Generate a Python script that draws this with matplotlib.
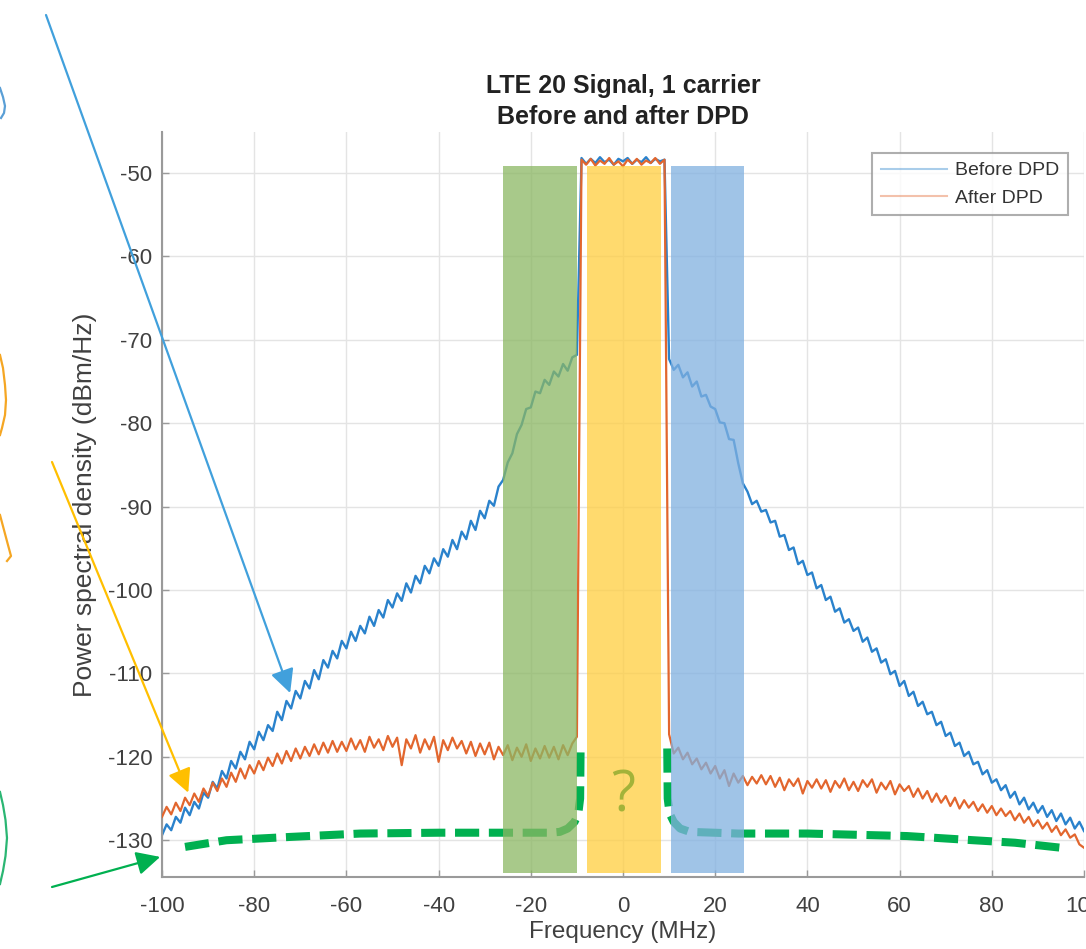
import matplotlib
matplotlib.use('Agg')
import matplotlib.pyplot as plt
from matplotlib.patches import Rectangle
from matplotlib.lines import Line2D

plt.rcParams['font.family'] = ['Liberation Sans', 'DejaVu Sans']
plt.rcParams['axes.unicode_minus'] = False

# ---------------- data ----------------
freq = list(range(-100, 101))  # MHz, 1 MHz steps

before_dpd = [
    -129.4, -128.1, -128.8, -127.2, -127.9, -126.1, -127.0, -125.4, -126.2, -124.3,
    -124.9, -123.0, -123.8, -121.7, -122.6, -120.5, -121.4, -119.4, -120.3, -118.2,
    -119.1, -117.0, -118.0, -116.2, -116.9, -114.6, -115.6, -113.3, -114.2, -112.1,
    -113.0, -110.9, -111.8, -109.6, -110.7, -108.4, -109.3, -107.3, -108.2, -106.1,
    -107.0, -105.0, -106.1, -104.3, -105.2, -103.2, -104.3, -102.4, -103.3, -101.2,
    -102.1, -100.4, -101.3, -99.2, -100.3, -98.3, -99.2, -97.1, -98.0, -96.2,
    -97.1, -95.1, -96.0, -94.0, -95.1, -93.0, -93.9, -91.7, -92.8, -90.5,
    -91.4, -89.3, -89.9, -87.6, -86.8, -84.7, -83.6, -81.3, -80.2, -78.3,
    -78.1, -76.2, -76.4, -74.8, -75.4, -73.8, -74.4, -72.9, -73.7, -72.1,
    -71.8,
    -48.2, -48.9, -48.3, -48.8, -48.1, -48.7, -48.4, -49.0, -48.3, -48.6,
    -48.2, -48.9, -48.4, -48.7, -48.1, -48.8, -48.3, -48.6, -48.4,
    -72.3, -73.6, -73.0, -74.5, -73.9, -75.6, -75.0, -76.8, -76.6, -78.0,
    -78.3, -79.9, -80.0, -81.9, -82.0, -84.8, -87.2, -88.2, -89.7, -89.3,
    -90.6, -90.4, -91.9, -91.7, -93.6, -93.4, -95.2, -94.9, -96.9, -96.5,
    -98.2, -97.9, -99.8, -99.4, -101.2, -100.8, -102.6, -102.2, -103.9, -103.5,
    -104.9, -104.5, -106.2, -105.7, -107.4, -107.0, -108.7, -108.3, -110.1, -109.7,
    -111.5, -110.9, -112.7, -112.2, -113.9, -113.4, -114.9, -114.6, -116.2, -115.8,
    -117.5, -117.1, -118.7, -118.3, -119.9, -119.4, -120.9, -120.6, -122.1, -121.6,
    -123.1, -122.7, -124.0, -123.4, -124.9, -124.2, -125.7, -124.9, -126.3, -125.5,
    -126.7, -125.9, -127.2, -126.4, -127.7, -126.8, -128.1, -127.3, -128.6, -127.8,
    -128.9,
]

after_dpd = [
    -127.2, -126.0, -126.9, -125.5, -126.5, -124.9, -125.8, -124.4, -125.4, -123.8,
    -124.7, -123.1, -124.1, -122.6, -123.6, -121.9, -123.0, -121.4, -122.6, -121.0,
    -122.0, -120.5, -121.6, -120.1, -121.1, -119.6, -120.8, -119.3, -120.5, -119.0,
    -120.2, -118.8, -119.9, -118.5, -119.7, -118.3, -119.5, -118.1, -119.4, -118.2,
    -119.3, -117.8, -119.1, -118.0, -119.4, -117.6, -118.9, -117.9, -119.2, -117.5,
    -118.8, -117.7, -121.0, -117.9, -119.0, -117.4, -119.5, -117.9, -119.1, -117.6,
    -120.6, -118.0, -119.2, -117.7, -119.0, -118.1, -119.6, -118.2, -119.9, -118.4,
    -119.7, -118.3, -120.3, -118.8, -119.8, -118.6, -120.4, -118.9, -120.0, -118.5,
    -120.5, -119.0, -120.2, -118.7, -120.1, -118.8, -120.3, -118.6, -119.8, -118.4,
    -117.6,
    -48.4, -49.0, -48.3, -49.1, -48.5, -48.9, -48.2, -49.0, -48.6, -49.2,
    -48.4, -48.9, -48.3, -49.0, -48.5, -48.8, -48.2, -48.9, -48.4,
    -117.3, -119.6, -118.9, -120.3, -119.5, -120.9, -120.2, -121.5, -120.7, -122.0,
    -121.1, -122.6, -121.6, -123.5, -122.0, -123.1, -122.3, -123.4, -122.4, -123.2,
    -122.2, -123.3, -122.3, -123.6, -122.5, -124.0, -122.7, -123.5, -122.6, -124.4,
    -122.9, -123.7, -122.7, -123.8, -122.8, -124.2, -122.9, -123.7, -122.6, -124.0,
    -123.0, -124.1, -122.8, -123.6, -122.7, -124.3, -123.1, -123.9, -122.9, -124.5,
    -123.3, -124.1, -123.5, -124.8, -123.8, -125.0, -124.1, -125.4, -124.4, -125.5,
    -124.7, -125.9, -124.9, -126.2, -125.2, -126.1, -125.4, -126.5, -125.7, -126.7,
    -125.9, -127.0, -126.2, -127.1, -126.5, -127.6, -126.8, -127.9, -127.2, -128.3,
    -127.6, -128.6, -127.9, -129.0, -128.3, -129.4, -128.7, -129.7, -129.3, -130.5,
    -130.9,
]

# target mask (green dashed), left and right halves
mask_left_f = [-95, -86, -72, -57, -40, -28, -16, -13.7, -12, -10.5, -9.7, -9.3, -9.2]
mask_left_db = [-130.8, -130.0, -129.6, -129.2, -129.1, -129.1, -129.1, -129.0, -128.6, -127.8, -126.8, -125.0, -119.0]
mask_right_f = [9.6, 9.7, 10.1, 11.0, 12.4, 14.5, 25, 40, 61.6, 76, 85, 95]
mask_right_db = [-119.0, -125.0, -126.8, -127.8, -128.6, -129.0, -129.2, -129.2, -129.5, -130.0, -130.3, -130.9]

# highlighted bands: (start MHz, end MHz, bottom dB, top dB)
band_lower_adj = (-26.0, -10.0, -133.9, -49.2)
band_carrier = (-7.8, 8.2, -133.9, -49.2)
band_upper_adj = (10.4, 26.2, -133.9, -49.2)

series_labels = ['Before DPD', 'After DPD']
x_ticks = [-100, -80, -60, -40, -20, 0, 20, 40, 60, 80, 100]
y_ticks = [-130, -120, -110, -100, -90, -80, -70, -60, -50]

# ---------------- figure ----------------
W, H = 1086, 949
fig = plt.figure(figsize=(W / 100, H / 100), dpi=100)
ax = fig.add_axes([162 / W, 1 - 877 / H, 922 / W, 745 / H])

BLUE = '#2a82cc'
ORANGE = '#e2662e'
GREEN = '#00b050'

l1, = ax.plot(freq, before_dpd, color=BLUE, lw=1.7, zorder=2, label=series_labels[0])
l2, = ax.plot(freq, after_dpd, color=ORANGE, lw=1.6, zorder=3, label=series_labels[1])

for fx, fy in ((mask_left_f, mask_left_db), (mask_right_f, mask_right_db)):
    ax.plot(fx, fy, color=GREEN, lw=5.8, dashes=(3.0, 1.2), solid_capstyle='butt',
            dash_capstyle='butt', zorder=4)

for band, col in ((band_lower_adj, '#8bb763'), (band_carrier, '#ffce3e'), (band_upper_adj, '#80b0e0')):
    x0, x1, y0, y1 = band
    ax.add_patch(Rectangle((x0, y0), x1 - x0, y1 - y0, facecolor=col, edgecolor='none',
                           alpha=0.75, zorder=5))

ax.text(0, -124.8, '?', ha='center', va='center', fontsize=40, color='#a3b339',
        family=['Open Sans', 'DejaVu Sans'], zorder=7)

ax.set_xlim(-100, 100)
ax.set_ylim(-134.41, -45.08)
ax.set_xticks(x_ticks)
ax.set_yticks(y_ticks)
ax.grid(True, color='#e4e4e4', lw=1.0)
ax.set_axisbelow(True)
for s in ('top', 'right'):
    ax.spines[s].set_visible(False)
for s in ('left', 'bottom'):
    ax.spines[s].set_color('#9a9a9a')
    ax.spines[s].set_linewidth(1.5)
ax.tick_params(direction='in', length=5, width=1, colors='#9a9a9a',
               labelcolor='#404040', labelsize=16)
ax.tick_params(axis='x', pad=13.5)
ax.tick_params(axis='y', pad=7)

ax.set_title('LTE 20 Signal, 1 carrier\nBefore and after DPD', fontsize=18,
             fontweight='bold', color='#222222', pad=6, linespacing=1.35)
ax.set_xlabel('Frequency (MHz)', fontsize=17.5, color='#404040')
ax.xaxis.set_label_coords(0.5, (877 - 921) / 745)
ax.set_ylabel('Power spectral density (dBm/Hz)', fontsize=19, color='#404040')
ax.yaxis.set_label_coords((97 - 162) / 922, 0.5)

leg = ax.legend(handles=[l1, l2], loc='upper right',
                bbox_to_anchor=((1068 - 162) / 922, (877 - 153) / 745),
                borderaxespad=0, fontsize=14, frameon=True, fancybox=False,
                handlelength=3.4, handletextpad=0.4, labelspacing=0.5, borderpad=0.45)
leg.get_frame().set_edgecolor('#9a9a9a')
leg.get_frame().set_linewidth(1.5)
for t in leg.get_texts():
    t.set_color('#333333')
for ln in leg.get_lines():
    ln.set_alpha(0.4)
    ln.set_linewidth(1.5)
leg.set_zorder(20)


def figpt(x, y):
    return (x / W, 1 - y / H)


arrow_specs = [
    ((-72.2, -112.35), (46, 15), '#41a0dc'),
    ((-94.3, -124.3), (52, 462), '#ffbf00'),
    ((-100.4, -132.0), (52, 887), GREEN),
]
for tip, start, col in arrow_specs:
    ax.annotate('', xy=tip, xycoords='data', xytext=figpt(*start),
                textcoords='figure fraction',
                arrowprops=dict(arrowstyle='-|>,head_length=0.4,head_width=0.2',
                                color=col, lw=1.6, mutation_scale=36,
                                shrinkA=0, shrinkB=0),
                annotation_clip=False, zorder=10)

# partial hand-drawn shapes cut off at the left edge
shapes = [
    ([(0, 88), (3, 97), (5, 106), (4, 113), (1, 118)], '#5a9fd6'),
    ([(0, 355), (3, 368), (5, 385), (6, 400), (5, 415), (2, 428), (0, 435)], '#f5a623'),
    ([(0, 515), (4, 530), (8, 545), (11, 556), (7, 561)], '#f5a623'),
    ([(0, 792), (3, 805), (5.5, 820), (7, 838), (5.5, 856), (3, 871), (0, 884)], '#2bb673'),
]
for pts, col in shapes:
    xs = [p[0] / W for p in pts]
    ys = [1 - p[1] / H for p in pts]
    fig.add_artist(Line2D(xs, ys, transform=fig.transFigure, color=col, lw=1.6))

fig.savefig('out.png', dpi=100, facecolor='white')
